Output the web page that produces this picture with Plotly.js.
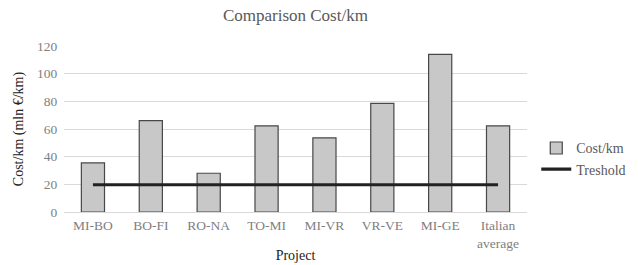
<!DOCTYPE html>
<html><head><meta charset="utf-8">
<script src="https://cdn.plot.ly/plotly-3.0.1.min.js"></script>
<style>body{margin:0;background:#fff}#c{width:638px;height:265px}</style>
</head><body><div id="c"></div>
<script>
const projects = ["MI-BO","BO-FI","RO-NA","TO-MI","MI-VR","VR-VE","MI-GE","Italian<br>average"];
const costPerKm = [35.5, 66, 28, 62.3, 53.6, 78.5, 114, 62.3];
const threshold = [19.7, 19.7, 19.7, 19.7, 19.7, 19.7, 19.7, 19.7];
const yTicks = [0, 20, 40, 60, 80, 100, 120];

const font = "Liberation Serif";
Plotly.newPlot("c", [
  {type:"bar", x:projects, y:costPerKm, name:"Cost/km",
   marker:{color:"#c8c8c8", line:{color:"#484848", width:1.2}}},
  {type:"scatter", mode:"lines", x:projects, y:threshold, name:"Treshold",
   line:{color:"#222222", width:3.2}}
], {
  width:638, height:265,
  margin:{l:64, r:111, t:46, b:53, autoexpand:false},
  paper_bgcolor:"#fff", plot_bgcolor:"#fff",
  bargap:0.6,
  font:{family:font, color:"#808080", size:13},
  title:{text:"Comparison Cost/km", font:{family:font, size:17, color:"#595959"}, x:0.463, xanchor:"center", y:0.945, yanchor:"middle"},
  xaxis:{title:{text:"Project", font:{family:font, size:14, color:"#222"}, standoff:0},
         tickfont:{family:font, size:13.5, color:"#808080"}, showline:false,
         ticks:"outside", ticklen:1, tickcolor:"rgba(0,0,0,0)", tickangle:0},
  yaxis:{title:{text:"Cost/km (mln €/km)", font:{family:font, size:14, color:"#222"}, standoff:10},
         range:[0,120], tickvals:yTicks, gridcolor:"#d9d9d9", gridwidth:1, zeroline:true, zerolinecolor:"#d9d9d9",
         tickfont:{family:font, size:13.5, color:"#808080"}, ticks:"outside", ticklen:3, tickcolor:"rgba(0,0,0,0)"},
  legend:{x:1.02, y:0.32, xanchor:"left", yanchor:"middle", font:{family:font, size:14, color:"#595959"},
          itemwidth:30},
  showlegend:true
}, {staticPlot:true});
</script></body></html>
